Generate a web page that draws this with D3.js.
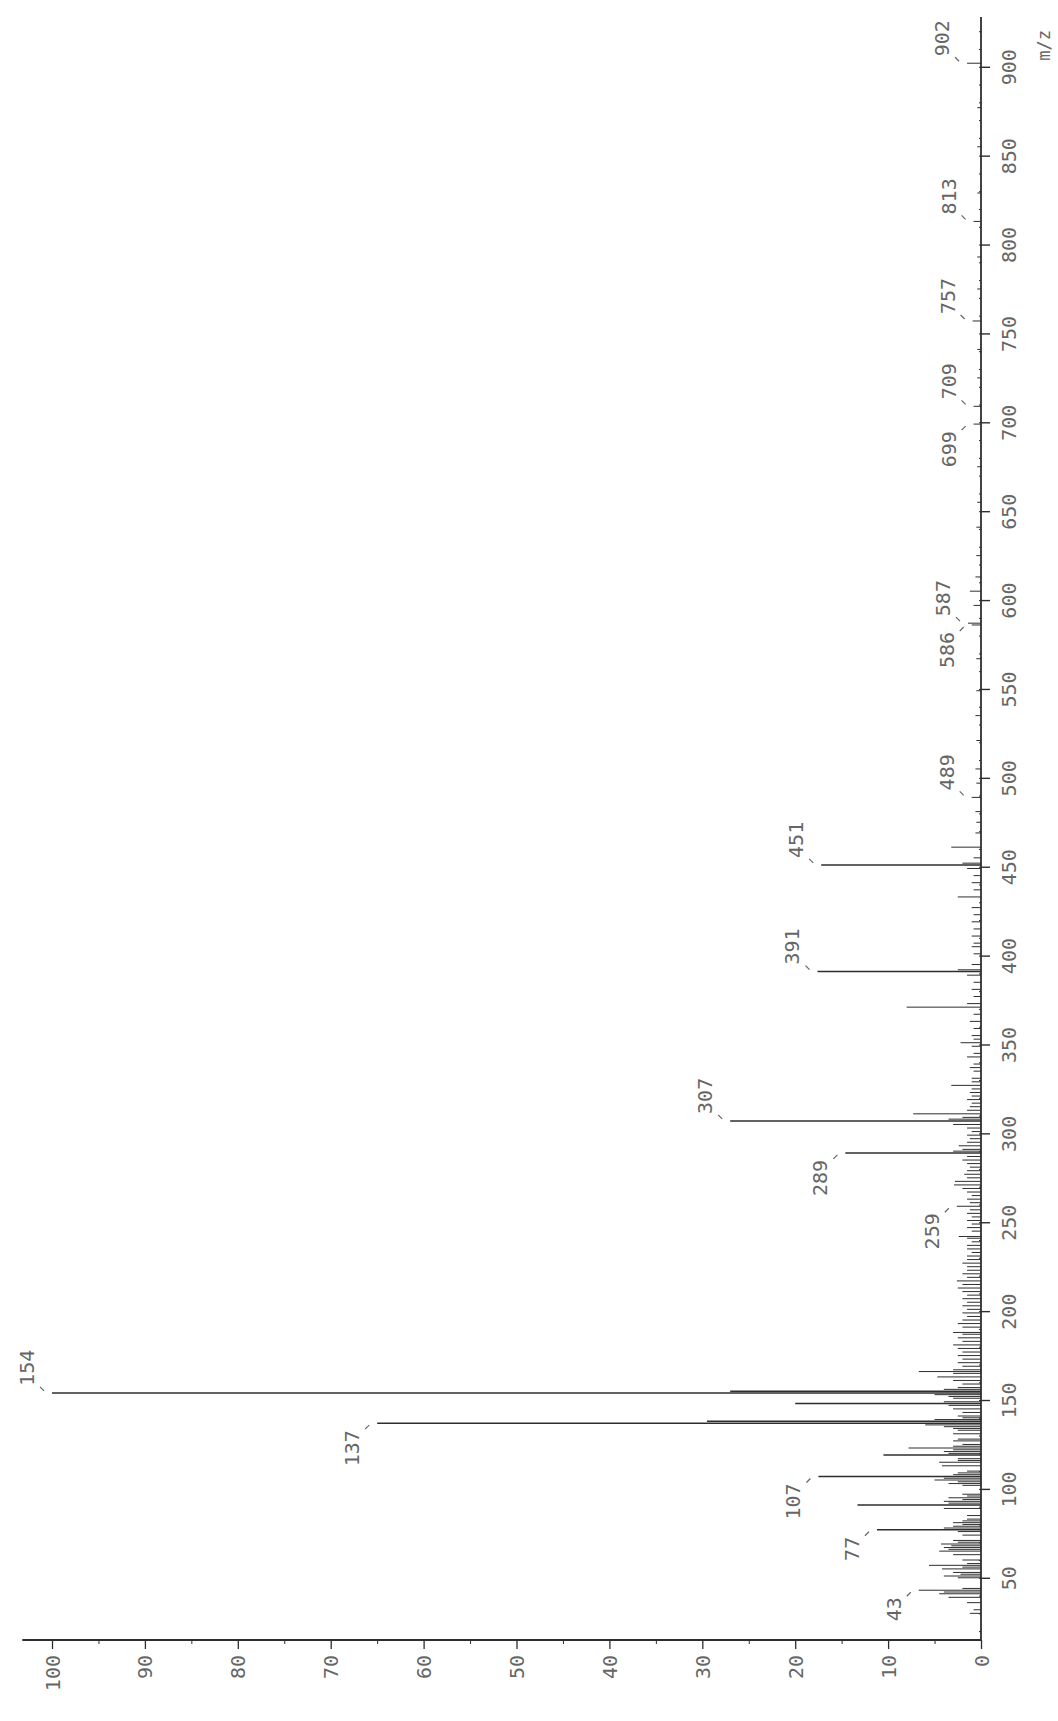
<!DOCTYPE html>
<html>
<head>
<meta charset="utf-8">
<script src="https://cdn.jsdelivr.net/npm/d3@7"></script>
<style>
  html, body { margin: 0; padding: 0; background: #fff; }
  svg { display: block; }
  text { font-family: "DejaVu Sans Mono", "Liberation Mono", monospace; fill: #666; }
</style>
</head>
<body>
<svg id="chart" width="1058" height="1721"></svg>
<script>
// Mass spectrum, drawn rotated: m/z runs up the right side, intensity runs to the left

var LINE_COLOR = '#2e2e2e',
    TEXT_COLOR = '#666',
    FONT_SIZE = 20;

// m/z of each peak
var peakMz = [
    30, 32, 36, 39, 41, 42, 43, 44, 50, 51, 52, 53, 55, 56, 57, 58, 60, 63, 65, 66,
    67, 68, 69, 70, 71, 74, 76, 77, 78, 79, 80, 81, 82, 83, 85, 89, 91, 92, 93, 94,
    95, 96, 97, 102, 103, 104, 105, 106, 107, 108, 109, 110, 113, 115, 116, 117, 119, 120, 121, 122,
    123, 124, 125, 127, 128, 131, 133, 134, 135, 136, 137, 138, 139, 140, 141, 143, 145, 147, 148, 149,
    151, 152, 153, 154, 155, 156, 157, 159, 161, 163, 165, 166, 167, 169, 171, 173, 175, 177, 179, 181,
    183, 185, 187, 188, 191, 193, 195, 197, 199, 201, 203, 205, 207, 209, 211, 213, 215, 217, 219, 221,
    223, 225, 227, 229, 231, 233, 235, 237, 239, 241, 242, 245, 247, 249, 251, 253, 255, 257, 259, 261,
    263, 265, 267, 269, 271, 273, 275, 277, 279, 281, 283, 285, 287, 289, 290, 291, 293, 295, 297, 299,
    301, 303, 305, 307, 308, 309, 311, 313, 315, 317, 319, 321, 323, 325, 327, 329, 331, 335, 337, 339,
    343, 345, 349, 351, 353, 355, 359, 363, 367, 371, 373, 377, 381, 385, 389, 391, 392, 395, 401, 405,
    407, 411, 415, 419, 423, 427, 433, 437, 441, 445, 449, 451, 452, 455, 461, 469, 475, 481, 489, 497,
    505, 521, 535, 549, 567, 586, 587, 597, 605, 613, 625, 641, 655, 675, 699, 709, 725, 741, 757, 775,
    793, 813, 829, 855, 877, 902
];

// relative intensity (%) of each peak, same order as peakMz
var peakIntensity = [
    1.2, 0.8, 1.5, 3.5, 4.5, 4.0, 6.7, 2.0, 2.5, 4.0, 2.2, 3.0, 4.2, 2.0, 5.6, 1.5, 2.0, 3.0, 4.5, 3.5,
    4.0, 3.2, 4.3, 2.5, 3.0, 2.0, 2.5, 11.2, 4.0, 3.0, 2.0, 3.0, 2.0, 1.5, 1.5, 4.0, 13.3, 3.5, 4.0, 2.0,
    3.5, 1.5, 2.0, 2.0, 3.5, 2.5, 5.0, 4.0, 17.5, 3.0, 2.5, 1.5, 4.2, 4.5, 2.5, 2.5, 10.5, 3.5, 4.0, 3.0,
    7.8, 3.0, 2.0, 3.0, 2.5, 3.0, 2.5, 3.0, 4.0, 6.0, 65.0, 29.5, 5.0, 2.0, 2.5, 2.0, 3.0, 3.5, 20.0, 4.0,
    3.0, 3.5, 5.0, 100, 27.0, 4.0, 2.5, 2.0, 3.0, 4.7, 3.0, 6.7, 3.0, 2.0, 2.5, 2.0, 2.5, 2.0, 2.5, 3.0,
    2.0, 2.5, 2.0, 3.0, 2.0, 2.5, 2.0, 1.5, 2.0, 1.5, 2.0, 1.5, 2.0, 1.5, 2.0, 2.5, 2.0, 2.6, 1.5, 2.0,
    1.5, 1.5, 2.0, 1.5, 1.5, 1.0, 1.5, 1.5, 1.0, 1.5, 2.4, 1.0, 1.5, 1.0, 1.5, 1.0, 1.5, 1.2, 2.6, 1.2,
    1.5, 1.0, 1.5, 2.0, 2.9, 2.8, 1.5, 1.8, 1.5, 1.2, 1.5, 2.0, 1.5, 14.6, 3.0, 2.0, 2.4, 1.5, 1.2, 1.5,
    1.0, 1.5, 3.0, 27.0, 3.5, 2.0, 7.3, 1.5, 1.2, 1.0, 1.5, 1.0, 1.2, 1.0, 3.2, 1.0, 1.0, 0.8, 1.2, 0.8,
    1.5, 0.8, 1.0, 2.2, 0.8, 1.0, 0.8, 1.2, 0.8, 8.0, 1.5, 0.8, 1.0, 0.8, 1.5, 17.6, 2.5, 1.0, 0.8, 1.0,
    0.8, 1.0, 0.8, 1.0, 0.8, 1.0, 2.5, 0.8, 1.0, 0.8, 1.5, 17.2, 2.0, 0.8, 3.2, 0.6, 0.5, 0.6, 1.0, 0.5,
    0.6, 0.5, 0.6, 0.5, 0.5, 1.0, 1.4, 0.8, 1.2, 0.6, 0.5, 0.5, 0.4, 0.4, 0.8, 0.8, 0.4, 0.4, 0.9, 0.4,
    0.4, 0.8, 0.4, 0.4, 0.4, 1.5
];

// annotated peaks, and the ones whose annotation sits below the peak line
var labelMz = [43, 77, 107, 137, 154, 259, 289, 307, 391, 451, 489, 586, 587, 699, 709, 757, 813, 902];
var labelBelow = [43, 77, 107, 137, 259, 289, 586, 699];

// axis ticks
var mzTicks = [50, 100, 150, 200, 250, 300, 350, 400, 450, 500, 550, 600, 650, 700, 750, 800, 850, 900];
var intensityTicks = [0, 10, 20, 30, 40, 50, 60, 70, 80, 90, 100];
var intensityMinorTicks = [5, 15, 25, 35, 45, 55, 65, 75, 85, 95];

var MZ_DOMAIN = [15, 928],
    INTENSITY_EXTENT = 103.2;

var svg = d3.select('#chart');

// m/z goes up the page, intensity goes to the left
var y = d3.scaleLinear().domain(MZ_DOMAIN).range([1640, 17]);
var x = d3.scaleLinear().domain([0, 100]).range([981, 52]);

var peaks = peakMz.map(function(m, i) { return { mz: m, value: peakIntensity[i] }; });

function buildPeaks() {
    svg.append('g')
        .selectAll('line')
        .data(peaks)
        .enter()
        .append('line')
        .attr('x1', x(0))
        .attr('x2', function(d) { return x(d.value); })
        .attr('y1', function(d) { return y(d.mz); })
        .attr('y2', function(d) { return y(d.mz); })
        .attr('stroke', LINE_COLOR)
        .attr('stroke-width', function(d) { return d.value > 10 ? 1.5 : 1; });
}

function buildMzAxis() {
    // small marks every 10 along the m/z axis
    var minor = d3.range(20, 921, 10);
    svg.append('g')
        .attr('transform', 'translate(' + x(0) + ',0)')
        .call(d3.axisLeft(y).tickValues(minor).tickSize(2).tickFormat(''))
        .call(function(g) { g.select('.domain').remove(); })
        .selectAll('line').attr('stroke', LINE_COLOR);

    var axis = svg.append('g')
        .attr('transform', 'translate(' + x(0) + ',0)')
        .call(d3.axisRight(y).tickValues(mzTicks).tickSize(9).tickFormat(d3.format('d')));

    axis.select('.domain')
        .attr('d', 'M0,' + y(MZ_DOMAIN[0]) + 'V' + y(MZ_DOMAIN[1]))
        .attr('stroke', LINE_COLOR)
        .attr('stroke-width', 1.8);
    axis.selectAll('line').attr('stroke', LINE_COLOR).attr('stroke-width', 1.4);
    axis.selectAll('text')
        .attr('x', 0)
        .attr('dy', '0.35em')
        .attr('text-anchor', 'middle')
        .attr('transform', 'translate(28,0) rotate(-90)')
        .attr('font-size', FONT_SIZE)
        .attr('fill', TEXT_COLOR);

    svg.append('text')
        .attr('transform', 'translate(1044,' + y(912) + ') rotate(-90)')
        .attr('text-anchor', 'middle')
        .attr('dy', '0.35em')
        .attr('font-size', 17)
        .text('m/z');
}

function buildIntensityAxis() {
    var base = y(MZ_DOMAIN[0]);

    svg.append('g')
        .attr('transform', 'translate(0,' + base + ')')
        .call(d3.axisBottom(x).tickValues(intensityMinorTicks).tickSize(4).tickFormat(''))
        .call(function(g) { g.select('.domain').remove(); })
        .selectAll('line').attr('stroke', LINE_COLOR);

    var axis = svg.append('g')
        .attr('transform', 'translate(0,' + base + ')')
        .call(d3.axisBottom(x).tickValues(intensityTicks).tickSize(9).tickFormat(d3.format('d')));

    axis.select('.domain')
        .attr('d', 'M' + x(INTENSITY_EXTENT) + ',0H' + x(0))
        .attr('stroke', LINE_COLOR)
        .attr('stroke-width', 1.8);
    axis.selectAll('line').attr('stroke', LINE_COLOR).attr('stroke-width', 1.3);
    axis.selectAll('text')
        .attr('y', 0)
        .attr('dy', '0.35em')
        .attr('text-anchor', 'end')
        .attr('transform', 'translate(0,15) rotate(-90)')
        .attr('font-size', FONT_SIZE)
        .attr('fill', TEXT_COLOR);
}

// Peak annotations: rotated number beside the tip, plus the little pen mark
function buildLabels() {
    var byMz = {};
    peaks.forEach(function(p) { byMz[p.mz] = p; });

    var labels = svg.append('g')
        .selectAll('g')
        .data(labelMz.map(function(m) { return byMz[m]; }))
        .enter()
        .append('g')
        .attr('transform', function(d) {
            return 'translate(' + x(d.value) + ',' + y(d.mz) + ')';
        });

    labels.append('line')
        .attr('x1', -12)
        .attr('x2', -8)
        .attr('y1', function(d) { return isBelow(d) ? 6 : -6; })
        .attr('y2', function(d) { return isBelow(d) ? 2 : -2; })
        .attr('stroke', TEXT_COLOR)
        .attr('stroke-width', 1.2);

    labels.append('text')
        .attr('transform', function(d) {
            return 'translate(-25,' + (isBelow(d) ? 7 : -7) + ') rotate(-90)';
        })
        .attr('text-anchor', function(d) { return isBelow(d) ? 'end' : 'start'; })
        .attr('dy', '0.35em')
        .attr('font-size', FONT_SIZE)
        .text(function(d) { return d.mz; });
}

function isBelow(d) {
    return labelBelow.indexOf(d.mz) >= 0;
}

buildPeaks();
buildMzAxis();
buildIntensityAxis();
buildLabels();
</script>
</body>
</html>
